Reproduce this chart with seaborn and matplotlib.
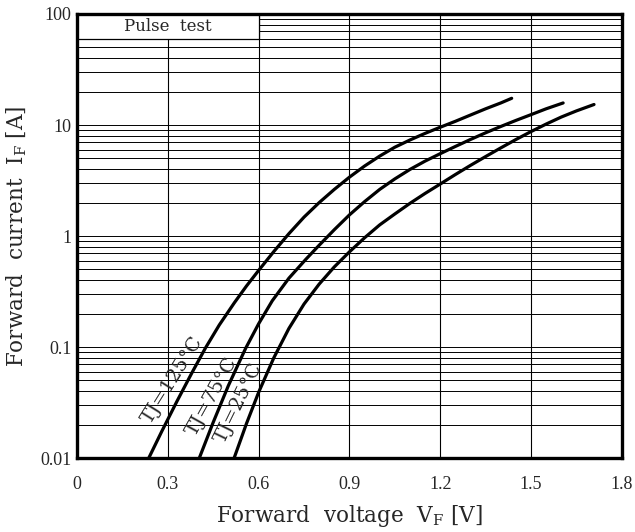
import numpy as np
import pandas as pd
import seaborn as sb
import matplotlib.pyplot as plt
from matplotlib.patches import Rectangle

# forward voltage [V] / forward current [A]
vf125 = [0.237, 0.28, 0.33, 0.38, 0.424, 0.47, 0.52, 0.56, 0.60, 0.65, 0.70, 0.75,
         0.80, 0.85, 0.90, 0.95, 1.00, 1.05, 1.10, 1.15, 1.20, 1.25, 1.30, 1.35,
         1.40, 1.436]
if125 = [0.0100, 0.0174, 0.0324, 0.0589, 0.0977, 0.158, 0.251, 0.355, 0.49, 0.724,
         1.05, 1.48, 2.0, 2.63, 3.39, 4.27, 5.25, 6.31, 7.33, 8.41, 9.55, 10.8,
         12.3, 14.0, 15.8, 17.4]

vf75 = [0.404, 0.45, 0.50, 0.557, 0.60, 0.645, 0.70, 0.756, 0.80, 0.85, 0.90, 0.95,
        1.00, 1.05, 1.10, 1.15, 1.20, 1.25, 1.30, 1.35, 1.40, 1.45, 1.50, 1.55, 1.606]
if75 = [0.0100, 0.0210, 0.0449, 0.0973, 0.162, 0.261, 0.417, 0.617, 0.826, 1.14,
        1.55, 2.04, 2.63, 3.27, 3.98, 4.73, 5.52, 6.41, 7.41, 8.51, 9.70, 11.0,
        12.4, 14.0, 15.8]

vf25 = [0.519, 0.56, 0.60, 0.65, 0.70, 0.75, 0.80, 0.85, 0.90, 0.95, 1.00, 1.05,
        1.10, 1.15, 1.20, 1.25, 1.30, 1.35, 1.40, 1.45, 1.50, 1.55, 1.60, 1.65, 1.708]
if25 = [0.0100, 0.0205, 0.0391, 0.0798, 0.147, 0.244, 0.369, 0.527, 0.72, 0.964,
        1.26, 1.58, 1.97, 2.42, 2.94, 3.58, 4.33, 5.20, 6.22, 7.40, 8.73, 10.2,
        11.8, 13.4, 15.3]

xticks = [0, 0.3, 0.6, 0.9, 1.2, 1.5, 1.8]
xticklabels = ['0', '0.3', '0.6', '0.9', '1.2', '1.5', '1.8']
yticks = [0.01, 0.1, 1, 10, 100]
yticklabels = ['0.01', '0.1', '1', '10', '100']

curve_labels = ['TJ=125°C', 'TJ=75°C', 'TJ=25°C']
label_x = [0.315, 0.447, 0.535]
label_y = [0.0505, 0.0355, 0.0313]
label_rot = [58, 61, 64]

df = pd.concat([
    pd.DataFrame({'Vf': vf125, 'If': if125, 'Tj': '125'}),
    pd.DataFrame({'Vf': vf75, 'If': if75, 'Tj': '75'}),
    pd.DataFrame({'Vf': vf25, 'If': if25, 'Tj': '25'}),
])

sb.set_style('white')
plt.rcParams['font.family'] = ['Liberation Serif', 'DejaVu Serif']

fig = plt.figure(figsize=(6.35, 5.32), dpi=100)
ax = fig.add_axes([0.1213, 0.139, 0.858, 0.8347])

sb.lineplot(data=df, x='Vf', y='If', hue='Tj', palette=['black'] * 3,
            sort=False, legend=False, linewidth=2.3, ax=ax, zorder=5)

ax.set_yscale('log')
ax.set_xlim(0, 1.8)
ax.set_ylim(0.01, 100)

# grid: every 0.3 V, log majors + minors
for xv in xticks[1:-1]:
    ax.axvline(xv, color='black', lw=0.8, zorder=1)
for dec in [0.01, 0.1, 1, 10]:
    for m in range(1, 10):
        ax.axhline(dec * m, color='black', lw=0.7, zorder=1)

# "Pulse test" box covering the top-left grid
ax.add_patch(Rectangle((0, 60), 0.6, 40, facecolor='white', edgecolor='black',
                       lw=0.9, zorder=3))
ax.text(0.3, 77, 'Pulse  test', ha='center', va='center', fontsize=12,
        family='DejaVu Serif', fontweight='light', zorder=4)

ax.set_xticks(xticks)
ax.set_xticklabels(xticklabels)
ax.set_yticks(yticks)
ax.set_yticklabels(yticklabels)
ax.yaxis.set_minor_locator(plt.NullLocator())
ax.tick_params(axis='both', length=0, labelsize=13)
ax.tick_params(axis='x', pad=13)
ax.tick_params(axis='y', pad=4)

for s in ax.spines.values():
    s.set_linewidth(2.4)
    s.set_color('black')
    s.set_zorder(6)

ax.set_xlabel('Forward  voltage  V$_\\mathregular{F}$ [V]', fontsize=15.5,
              family='DejaVu Serif', labelpad=7)
ax.set_ylabel('Forward  current  I$_\\mathregular{F}$ [A]', fontsize=15.5,
              family='DejaVu Serif', labelpad=8)

for t, lx, ly, r in zip(curve_labels, label_x, label_y, label_rot):
    ax.text(lx, ly, t, rotation=r, ha='center', va='center', fontsize=14,
            family='DejaVu Serif', zorder=4)

plt.savefig('out.png', dpi=100)
